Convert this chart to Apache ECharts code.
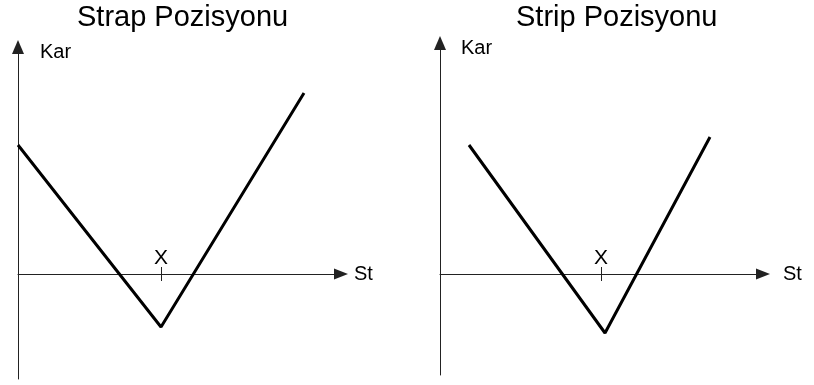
<!DOCTYPE html>
<html>
<head>
<meta charset="utf-8">
<script src="https://cdn.jsdelivr.net/npm/echarts@6/dist/echarts.min.js"></script>
<style>
  html, body { margin: 0; padding: 0; background: #fff; }
  #chart { width: 814px; height: 385px; }
</style>
</head>
<body>
<div id="chart"></div>
<script>
// veriler (kar / hisse fiyatı diyagramı)
var titles = ['Strap Pozisyonu', 'Strip Pozisyonu'];
var strapPrice = [0, 143, 286];
var strapProfit = [129, -53, 181];
var stripPrice = [29, 165, 270];
var stripProfit = [129, -59, 137];
var strikes = [143, 161];      // X işaretinin yeri
var tickHalf = 7;
var xMax = [323, 323];
var yMin = [-105, -101];
var yMax = [227, 231];

var font = 'Liberation Sans, Arial, sans-serif';
var myChart = echarts.init(document.getElementById('chart'));

function pairs(xs, ys) {
    return xs.map(function (x, i) { return [x, ys[i]]; });
}

function xAxisOf(i, gap) {
    return {
        type: 'value', gridIndex: i, min: 0, max: xMax[i],
        name: 'St', nameLocation: 'end', nameGap: gap,
        nameTextStyle: { fontFamily: font, fontSize: 20, color: '#000', align: 'left', verticalAlign: 'middle', padding: [0, 0, 6, 0] },
        axisLine: { onZero: true, symbol: ['none', 'triangle'], symbolSize: [11, 14], lineStyle: { color: '#222', width: 1 } },
        axisTick: { show: false }, axisLabel: { show: false }, splitLine: { show: false }
    };
}

function yAxisOf(i, pad) {
    return {
        type: 'value', gridIndex: i, min: yMin[i], max: yMax[i],
        name: 'Kar', nameLocation: 'end', nameGap: -5,
        nameTextStyle: { fontFamily: font, fontSize: 20, color: '#000', align: 'left', verticalAlign: 'middle', padding: [0, 0, 0, pad] },
        axisLine: { onZero: false, symbol: ['none', 'triangle'], symbolSize: [12, 14], lineStyle: { color: '#222', width: 1 } },
        axisTick: { show: false }, axisLabel: { show: false }, splitLine: { show: false }
    };
}

function seriesOf(i, data) {
    return {
        type: 'line', xAxisIndex: i, yAxisIndex: i,
        data: data, symbol: 'none', silent: true,
        lineStyle: { color: '#000', width: 3 },
        markLine: {
            silent: true, symbol: 'none', animation: false,
            lineStyle: { color: '#222', width: 1, type: 'solid' },
            label: { show: true, position: 'end', formatter: 'X', distance: -2, fontFamily: font, fontSize: 21, color: '#000' },
            data: [[{ coord: [strikes[i], -tickHalf] }, { coord: [strikes[i], tickHalf] }]]
        }
    };
}

var option = {
    animation: false,
    title: [
        { text: titles[0], left: 77, top: 3, padding: 0, textStyle: { fontFamily: font, fontSize: 29, fontWeight: 'normal', color: '#000' } },
        { text: titles[1], left: 516, top: 3, padding: 0, textStyle: { fontFamily: font, fontSize: 29, fontWeight: 'normal', color: '#000' } }
    ],
    grid: [
        { left: 18, top: 47, width: 323, height: 332 },
        { left: 440, top: 43, width: 323, height: 332 }
    ],
    xAxis: [xAxisOf(0, 13), xAxisOf(1, 20)],
    yAxis: [yAxisOf(0, 22), yAxisOf(1, 21)],
    series: [
        seriesOf(0, pairs(strapPrice, strapProfit)),
        seriesOf(1, pairs(stripPrice, stripProfit))
    ]
};
myChart.setOption(option);
</script>
</body>
</html>
